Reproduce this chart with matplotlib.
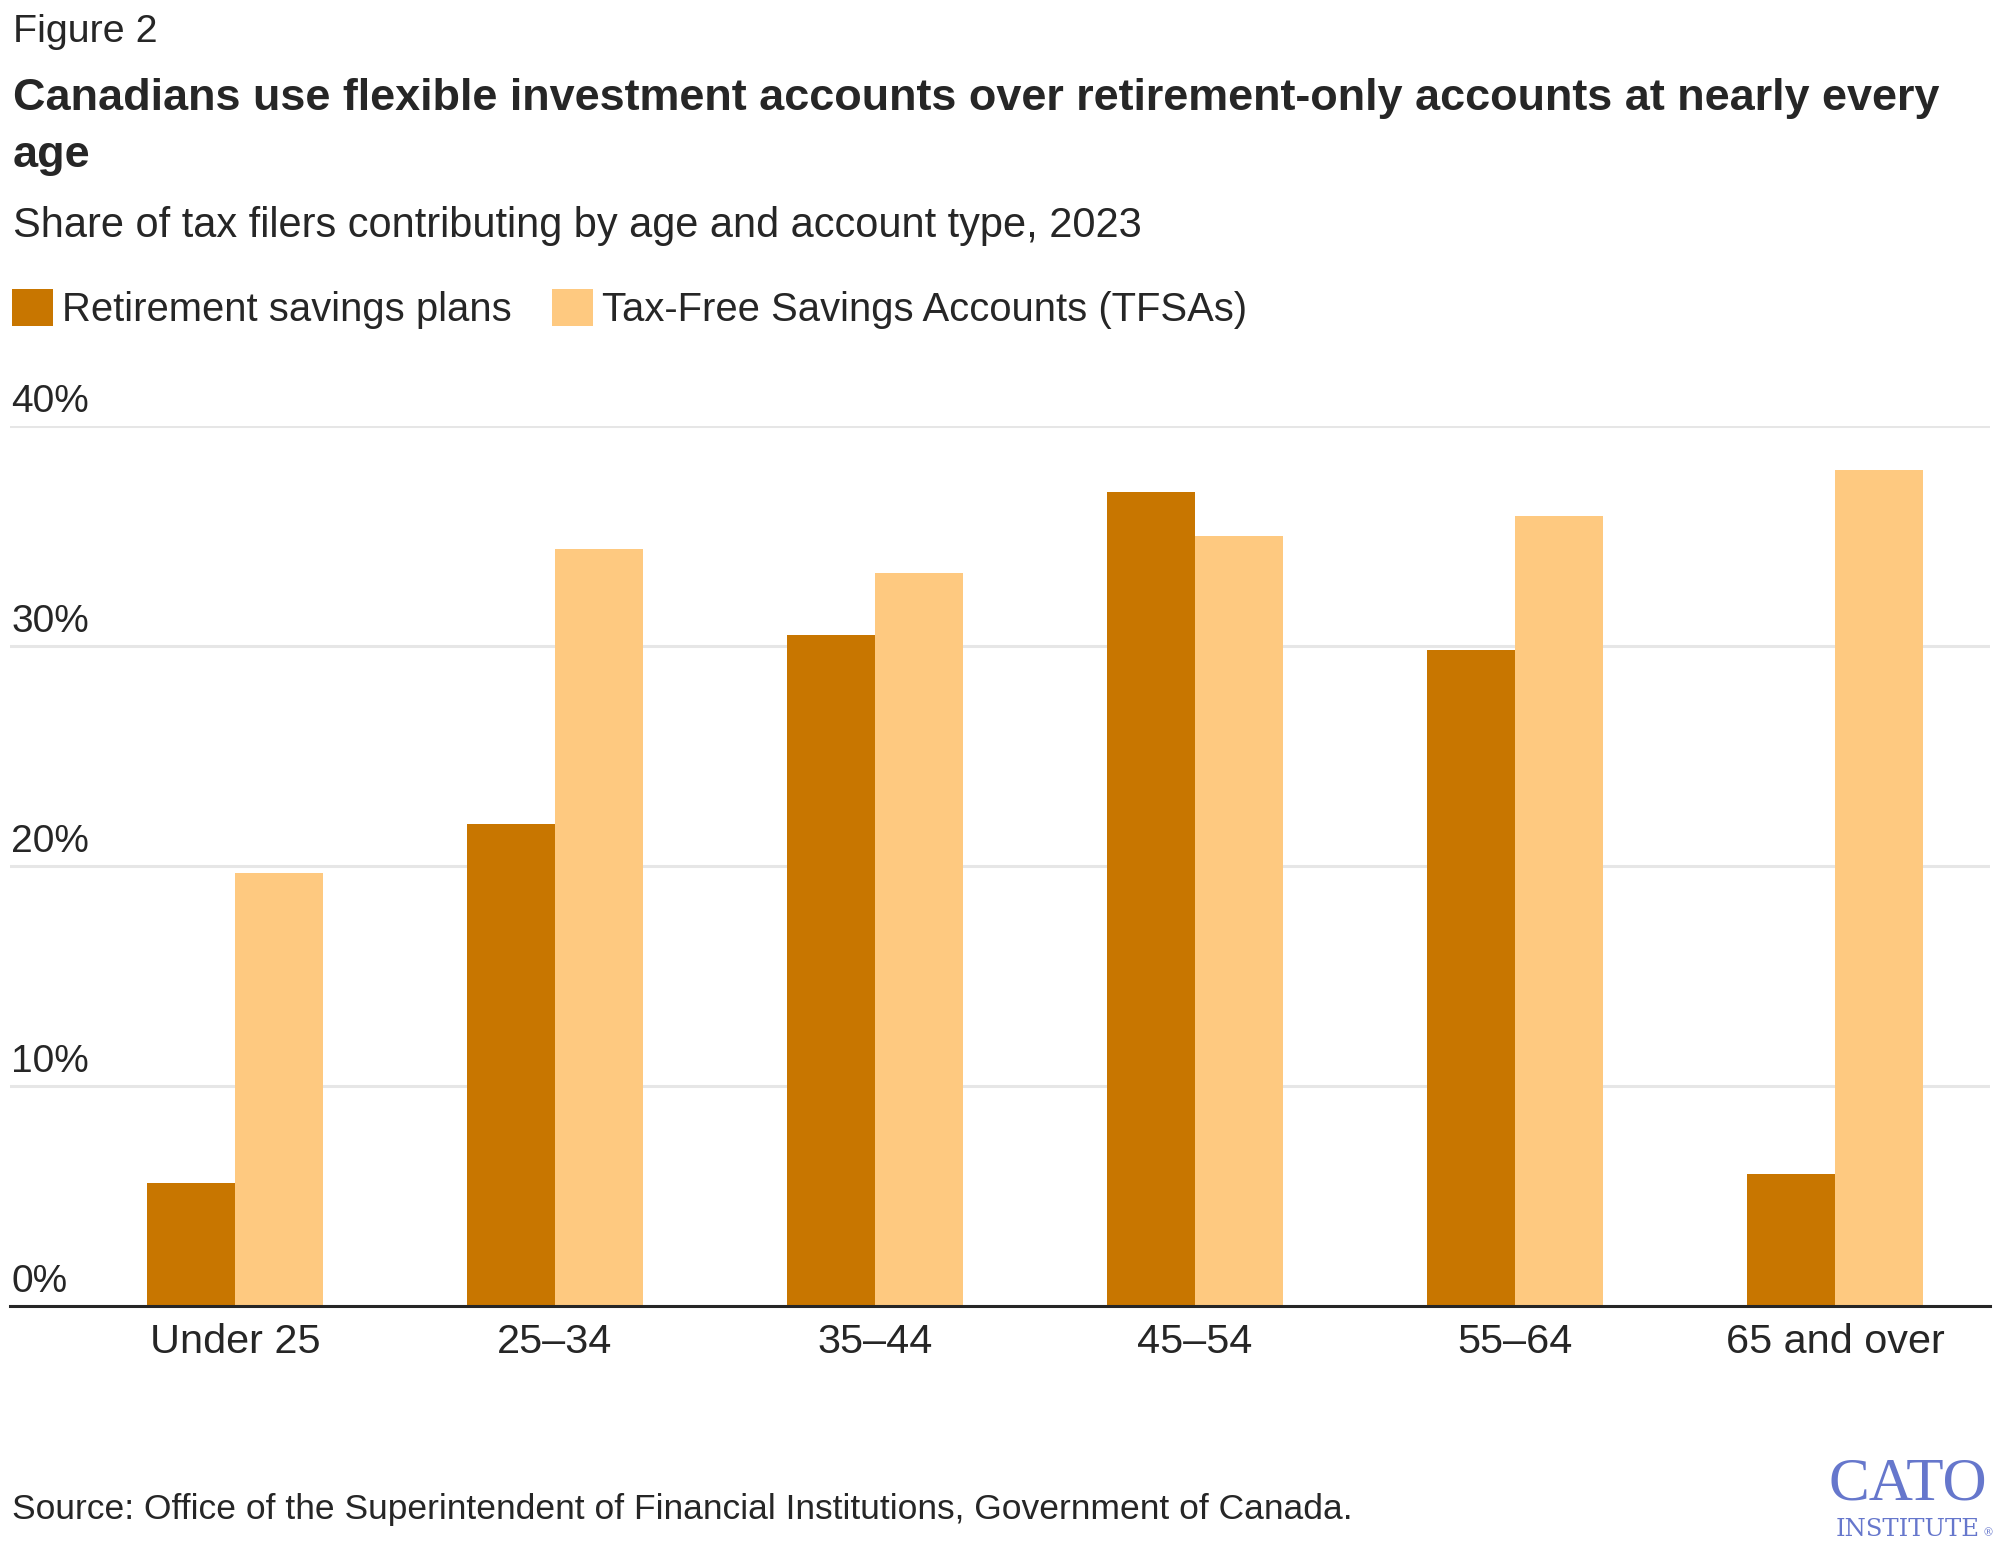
import matplotlib
matplotlib.use('Agg')
import matplotlib.pyplot as plt
import numpy as np

# =============================================================================
# DATA
# =============================================================================

age_groups = ['Under 25', '25–34', '35–44', '45–54', '55–64', '65 and over']
retirement_plans = [5.6, 21.9, 30.5, 37.0, 29.8, 6.0]
tfsa_accounts = [19.7, 34.4, 33.3, 35.0, 35.9, 38.0]
series_names = ['Retirement savings plans', 'Tax-Free Savings Accounts (TFSAs)']
y_ticks = [0, 10, 20, 30, 40]

# =============================================================================
# STYLE
# =============================================================================

W, H = 1997, 1544
DARK = '#C87600'
LIGHT = '#FEC980'
TEXT = '#262626'
GRID = '#E6E6E6'
CATO_BLUE = '#6677CC'

plt.rcParams['font.family'] = ['Liberation Sans', 'DejaVu Sans']


def fy(px):
    """Convert a pixel row (from the top) into figure coordinates."""
    return 1 - px / H


def fx(px):
    return px / W


fig = plt.figure(figsize=(W / 100, H / 100), dpi=100)
ax = fig.add_axes([fx(10), fy(1306), fx(1980), (1306 - 426) / H])

x = np.arange(len(age_groups))
width = 0.275
ax.bar(x - width / 2, retirement_plans, width, color=DARK, label=series_names[0], zorder=3)
ax.bar(x + width / 2, tfsa_accounts, width, color=LIGHT, label=series_names[1], zorder=3)

ax.set_xlim(-0.703, 5.484)
ax.set_ylim(0, 40)
ax.set_yticks(y_ticks)
ax.yaxis.grid(True, color=GRID, linewidth=2.2, zorder=0)
ax.tick_params(axis='y', length=0, labelleft=False)
ax.set_xticks(x)
ax.set_xticklabels(age_groups, fontsize=29.8, color=TEXT)
ax.tick_params(axis='x', length=0, pad=12.5)

for side in ['top', 'right', 'left']:
    ax.spines[side].set_visible(False)
ax.spines['bottom'].set_color(TEXT)
ax.spines['bottom'].set_linewidth(2.2)
ax.spines['bottom'].set_zorder(4)

# y tick labels sit inside the plot, just above each gridline
for t in y_ticks:
    ax.annotate(f'{t}%', xy=(0, t), xycoords=('axes fraction', 'data'),
                xytext=(1, 10), textcoords='offset points',
                ha='left', va='baseline', fontsize=28, color=TEXT)

# =============================================================================
# TITLES, LEGEND, SOURCE
# =============================================================================

fig.text(fx(13), fy(42), 'Figure 2', fontsize=28.4, color=TEXT, va='baseline')
fig.text(fx(13), fy(110),
         'Canadians use flexible investment accounts over retirement-only accounts at nearly every',
         fontsize=32.4, fontweight='bold', color=TEXT, va='baseline')
fig.text(fx(13), fy(167), 'age', fontsize=32.4, fontweight='bold', color=TEXT, va='baseline')
fig.text(fx(13), fy(237), 'Share of tax filers contributing by age and account type, 2023',
         fontsize=29.9, color=TEXT, va='baseline')

fig.legend(loc='upper left', bbox_to_anchor=(fx(12), fy(289)), ncol=2, frameon=False,
           fontsize=28.8, handlelength=1.03, handleheight=1.05, handletextpad=0.22,
           columnspacing=1.0, borderpad=0, borderaxespad=0, labelcolor=TEXT)

fig.text(fx(12), fy(1519),
         'Source: Office of the Superintendent of Financial Institutions, Government of Canada.',
         fontsize=25.5, color=TEXT, va='baseline')

# logo
fig.text(fx(1908), fy(1499), 'CATO', fontsize=44, color=CATO_BLUE, ha='center',
         va='baseline', family='Liberation Serif')
fig.text(fx(1980), fy(1536), 'INSTITUTE', fontsize=17.5, color=CATO_BLUE, ha='right',
         va='baseline', family='DejaVu Serif')
fig.text(fx(1982), fy(1536), '®', fontsize=8, color=CATO_BLUE, ha='left',
         va='baseline', family='DejaVu Serif')

fig.savefig('out.png', dpi=100)
